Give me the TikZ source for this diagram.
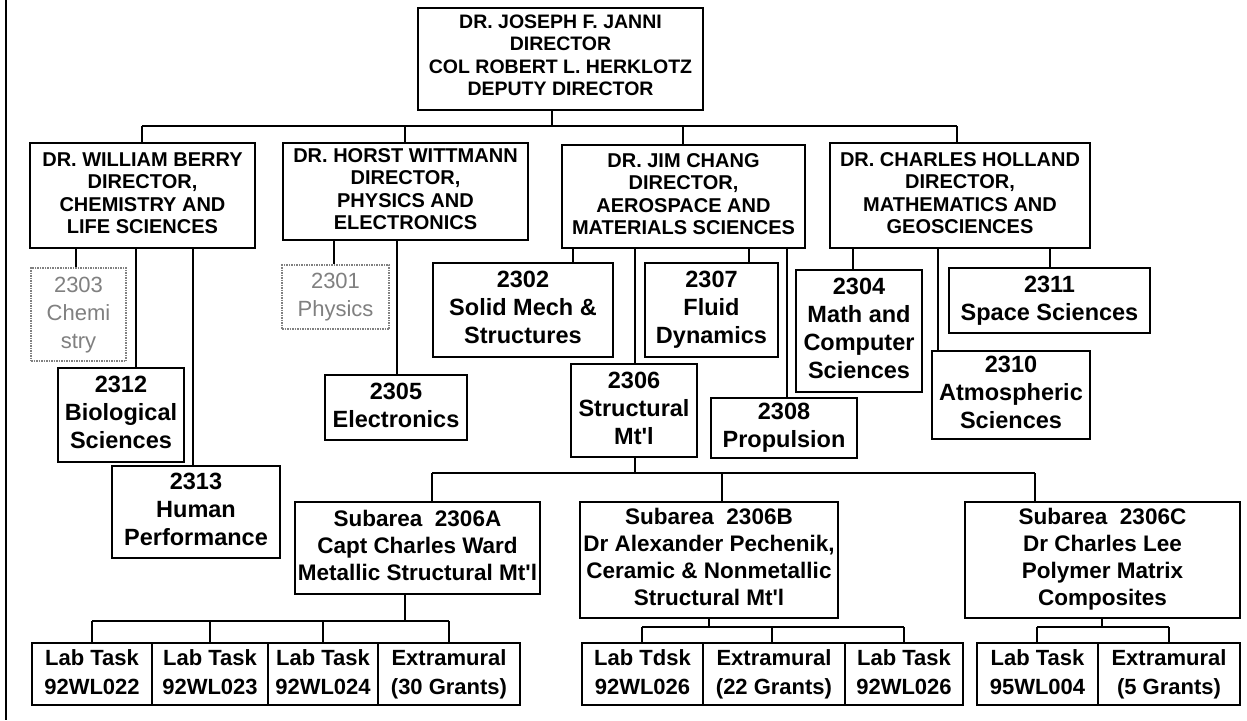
\documentclass[tikz,border=0pt]{standalone}
\usepackage{fontspec}
\setmainfont{Liberation Sans}
\newcommand\apos{\textquotesingle}
\begin{document}
\begin{tikzpicture}[x=1pt,y=-1pt,
  box/.style={draw=black, line width=2pt, align=center, inner sep=0pt,
    font=\bfseries\fontsize{23.5}{28}\selectfont},
  headbox/.style={box, font=\bfseries\fontsize{20}{22.5}\selectfont},
  topbox/.style={box, font=\bfseries\fontsize{19.5}{22.3}\selectfont},
  subbox/.style={box, font=\bfseries\fontsize{22.5}{27}\selectfont},
  labbox/.style={box, font=\bfseries\fontsize{22}{29}\selectfont},
  ghostbox/.style={draw=black!50, densely dotted, line width=1.5pt, align=center,
    inner sep=0pt, text=black!50, font=\fontsize{22}{28}\selectfont},
  link/.style={draw=black, line width=1.6pt}]

\useasboundingbox (0,0) rectangle (1247,720);
\fill[white] (0,0) rectangle (1247,720);
% page edge on the left
\draw[line width=1.3pt] (6,0) -- (6,720);

% box from corner (x1,y1) to corner (x2,y2), text centred by struts
\newcommand\orgbox[7]{%
  \node[#6, minimum width={(#4)-(#2)}, minimum height={(#5)-(#3)}]
    (#1) at ({((#2)+(#4))/2},{((#3)+(#5))/2}) {\strut#7\strut};}

% ---- directorate
\node[draw=black, line width=2pt, minimum width=285, minimum height=102, inner sep=0pt]
  (top) at (560.5,59) {};
\node[topbox, draw=none, anchor=north] (toptext) at ([yshift=-5]top.north)
  {\strut DR. JOSEPH F. JANNI\\DIRECTOR\\COL ROBERT L. HERKLOTZ\\DEPUTY DIRECTOR\strut};
\orgbox{berry}{30}{143}{255}{248}{headbox}{DR. WILLIAM BERRY\\DIRECTOR,\\CHEMISTRY AND\\LIFE SCIENCES}
\orgbox{wittmann}{283}{143}{528}{240}{headbox}{DR. HORST WITTMANN\\DIRECTOR,\\PHYSICS AND\\ELECTRONICS}
\orgbox{chang}{562}{145}{805}{248}{headbox}{DR. JIM CHANG\\DIRECTOR,\\AEROSPACE AND\\MATERIALS SCIENCES}
\orgbox{holland}{830}{143}{1090}{248}{headbox}{DR. CHARLES HOLLAND\\DIRECTOR,\\MATHEMATICS AND\\GEOSCIENCES}

% ---- program areas
\orgbox{c2303}{31}{268}{126}{361}{ghostbox}{2303\\Chemi\\stry}
\orgbox{c2312}{58}{368}{184}{462}{box}{2312\\Biological\\Sciences}
\orgbox{c2313}{112}{466}{280}{558}{box}{2313\\Human\\Performance}
\orgbox{c2301}{282}{265}{389}{329}{ghostbox}{2301\\Physics}
\orgbox{c2305}{325}{375}{467}{440}{box}{2305\\Electronics}
\orgbox{c2302}{433}{263}{613}{357}{box}{2302\\Solid Mech \&\\Structures}
\orgbox{c2307}{645}{263}{778}{357}{box}{2307\\Fluid\\Dynamics}
\orgbox{c2306}{571}{364}{697}{457}{box}{2306\\Structural\\Mt\apos l}
\orgbox{c2308}{711}{398}{857}{458}{box}{2308\\Propulsion}
\orgbox{c2304}{796}{270}{922}{392}{box}{2304\\Math and\\Computer\\Sciences}
\orgbox{c2311}{949}{268}{1150}{333}{box}{2311\\Space Sciences}
\orgbox{c2310}{932}{351}{1090}{439}{box}{2310\\Atmospheric\\Sciences}

% ---- subareas of 2306
\orgbox{subA}{295}{502}{540}{594}{subbox}{Subarea\ \ 2306A\\Capt Charles Ward\\Metallic Structural Mt\apos l}
\orgbox{subB}{580}{502}{838}{618}{subbox}{Subarea\ \ 2306B\\Dr Alexander Pechenik,\\Ceramic \& Nonmetallic\\Structural Mt\apos l}
\orgbox{subC}{965}{502}{1240}{618}{subbox}{Subarea\ \ 2306C\\Dr Charles Lee\\Polymer Matrix\\Composites}

% ---- lab tasks
\orgbox{a1}{32}{643}{152}{705}{labbox}{Lab Task\\92WL022}
\orgbox{a2}{152}{643}{268}{705}{labbox}{Lab Task\\92WL023}
\orgbox{a3}{268}{643}{378}{705}{labbox}{Lab Task\\92WL024}
\orgbox{a4}{378}{643}{520}{705}{labbox}{Extramural\\(30 Grants)}
\orgbox{b1}{582}{643}{703}{705}{labbox}{Lab Tdsk\\92WL026}
\orgbox{b2}{703}{643}{845}{705}{labbox}{Extramural\\(22 Grants)}
\orgbox{b3}{845}{643}{963}{705}{labbox}{Lab Task\\92WL026}
\orgbox{c1}{977}{643}{1098}{705}{labbox}{Lab Task\\95WL004}
\orgbox{c2}{1098}{643}{1240}{705}{labbox}{Extramural\\(5 Grants)}

% ---- bus levels and drop points
\coordinate (busTop) at (0,126);
\coordinate (busSub) at (0,473);
\coordinate (busA) at (0,621);
\coordinate (busB) at (0,627);
\coordinate (busC) at (0,627);

\foreach \n/\x in {dTop/552, dBerry/142, dWitt/405, dChang/683, dHoll/957,
  d2303/76, d2312/136, d2313/193, d2301/334, d2305/397,
  d2302/573, d2306/635, d2307/749, d2308/787, d2304/853, d2310/938, d2311/1050,
  dA/432, dB/722, dC/1035, uA/405, uB/709, uC/1102,
  da1/92, da2/210, da3/323, da4/449, db1/642, db2/772, db3/904, dc1/1037, dc2/1169}
  \coordinate (\n) at (\x,0);

% director level
\draw[link] (top.south -| dTop) -- (busTop -| dTop);
\draw[link] (busTop -| dBerry) -- (busTop -| dHoll);
\draw[link] (berry.north -| dBerry) -- (busTop -| dBerry);
\draw[link] (wittmann.north -| dWitt) -- (busTop -| dWitt);
\draw[link] (chang.north -| dChang) -- (busTop -| dChang);
\draw[link] (holland.north -| dHoll) -- (busTop -| dHoll);

% program areas
\draw[link] (berry.south -| d2303) -- (c2303.north -| d2303);
\draw[link] (berry.south -| d2312) -- (c2312.north -| d2312);
\draw[link] (berry.south -| d2313) -- (c2313.north -| d2313);
\draw[link] (wittmann.south -| d2301) -- (c2301.north -| d2301);
\draw[link] (wittmann.south -| d2305) -- (c2305.north -| d2305);
\draw[link] (chang.south -| d2302) -- (c2302.north -| d2302);
\draw[link] (chang.south -| d2306) -- (c2306.north -| d2306);
\draw[link] (chang.south -| d2307) -- (c2307.north -| d2307);
\draw[link] (chang.south -| d2308) -- (c2308.north -| d2308);
\draw[link] (holland.south -| d2304) -- (c2304.north -| d2304);
\draw[link] (holland.south -| d2310) -- (c2310.north -| d2310);
\draw[link] (holland.south -| d2311) -- (c2311.north -| d2311);

% subareas
\draw[link] (c2306.south -| d2306) -- (busSub -| d2306);
\draw[link] (busSub -| dA) -- (busSub -| dC);
\draw[link] (subA.north -| dA) -- (busSub -| dA);
\draw[link] (subB.north -| dB) -- (busSub -| dB);
\draw[link] (subC.north -| dC) -- (busSub -| dC);

% lab tasks
\draw[link] (subA.south -| uA) -- (busA -| uA);
\draw[link] (busA -| da1) -- (busA -| da4);
\foreach \t/\d in {a1/da1, a2/da2, a3/da3, a4/da4}
  \draw[link] (\t.north -| \d) -- (busA -| \d);
\draw[link] (subB.south -| uB) -- (busB -| uB);
\draw[link] (busB -| db1) -- (busB -| db3);
\foreach \t/\d in {b1/db1, b2/db2, b3/db3}
  \draw[link] (\t.north -| \d) -- (busB -| \d);
\draw[link] (subC.south -| uC) -- (busC -| uC);
\draw[link] (busC -| dc1) -- (busC -| dc2);
\foreach \t/\d in {c1/dc1, c2/dc2}
  \draw[link] (\t.north -| \d) -- (busC -| \d);
\end{tikzpicture}
\end{document}
